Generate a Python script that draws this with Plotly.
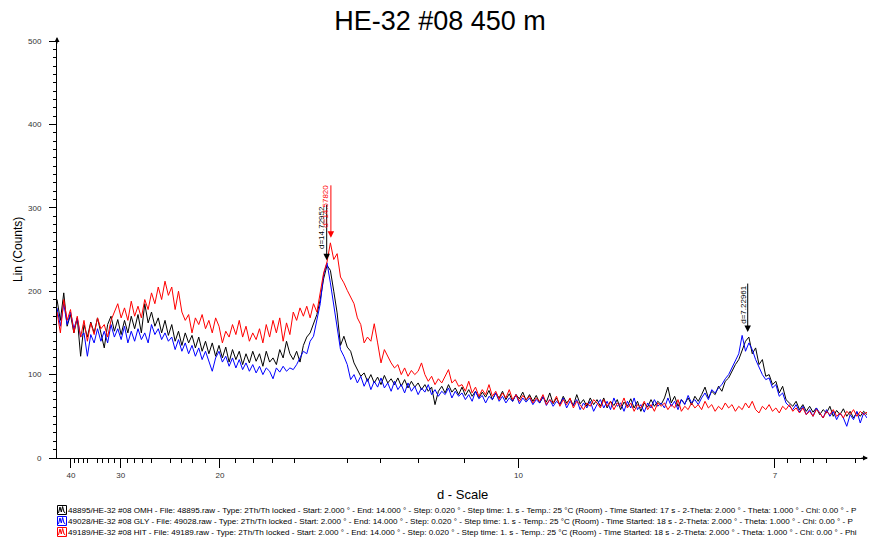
import math
import numpy as np
import plotly.graph_objects as go

TITLE = "HE-32 #08 450 m"
X_TITLE = "d - Scale"
Y_TITLE = "Lin (Counts)"
START_2TH = 2.0      # scan start (deg 2-theta)
STEP_2TH = 0.05      # sampling of the read-off values (deg 2-theta)
WAVELENGTH = 1.5406  # Cu K-alpha (Angstrom)

# counts, 2.00 .. 14.00 deg 2-theta, every 0.05 deg
omh_counts = [
    190, 165, 198, 158, 172, 150, 168, 122, 160, 145, 163, 150, 168, 148, 132, 160, 170, 152, 166, 148,
    165, 150, 170, 155, 172, 150, 185, 162, 175, 158, 168, 150, 165, 147, 160, 140, 152, 135, 150, 138,
    147, 132, 145, 128, 140, 125, 138, 122, 135, 120, 133, 115, 130, 118, 128, 112, 125, 114, 128, 116,
    125, 110, 128, 115, 120, 112, 130, 120, 140, 125, 118, 128, 115, 135, 145, 150, 160, 172, 190, 215,
    231, 225, 200, 174, 135, 146, 133, 128, 114, 106, 98, 102, 92, 100, 90, 97, 88, 99, 90, 95,
    88, 96, 86, 94, 84, 92, 85, 90, 82, 88, 80, 85, 64, 80, 86, 78, 88, 79, 84, 76,
    85, 75, 82, 74, 80, 72, 79, 73, 81, 70, 78, 72, 80, 70, 77, 68, 76, 71, 79, 69,
    76, 68, 75, 66, 73, 67, 78, 65, 72, 64, 74, 66, 71, 63, 76, 65, 70, 62, 72, 64,
    70, 62, 72, 60, 68, 63, 70, 58, 67, 62, 71, 60, 68, 56, 66, 61, 70, 62, 68, 64,
    72, 85, 66, 74, 62, 70, 65, 72, 64, 74, 68, 76, 85, 72, 80, 76, 86, 80, 92, 96,
    105, 112, 118, 128, 140, 145, 125, 132, 112, 118, 98, 100, 88, 92, 78, 86, 70, 66, 62, 68,
    58, 64, 56, 62, 55, 60, 52, 58, 54, 62, 50, 57, 52, 59, 50, 56, 48, 55, 50, 56,
    52,
]
gly_counts = [
    180, 158, 185, 160, 175, 155, 168, 145, 150, 122, 148, 138, 155, 140, 152, 138, 160, 145, 155, 142,
    158, 138, 152, 140, 155, 142, 150, 138, 160, 148, 155, 142, 150, 140, 145, 130, 142, 128, 138, 125,
    135, 122, 132, 118, 128, 115, 104, 120, 128, 115, 122, 110, 120, 108, 118, 106, 114, 104, 112, 102,
    110, 100, 108, 104, 95, 108, 103, 110, 104, 108, 106, 112, 120, 128, 125, 140, 146, 165, 185, 220,
    234, 210, 185, 160, 130, 122, 112, 94, 100, 90, 98, 86, 95, 82, 92, 85, 96, 84, 90, 80,
    92, 82, 88, 78, 90, 80, 86, 76, 84, 79, 88, 76, 82, 74, 80, 76, 84, 72, 80, 74,
    78, 70, 76, 68, 80, 71, 75, 66, 74, 70, 78, 68, 74, 66, 72, 68, 76, 65, 72, 67,
    72, 64, 70, 66, 74, 63, 70, 62, 68, 64, 72, 60, 68, 63, 70, 58, 66, 60, 68, 56,
    64, 70, 60, 68, 58, 72, 62, 66, 56, 68, 60, 72, 58, 64, 55, 66, 60, 70, 62, 66,
    60, 72, 62, 68, 58, 70, 64, 75, 66, 70, 64, 72, 78, 70, 82, 78, 84, 88, 95, 100,
    108, 118, 125, 147, 128, 138, 130, 118, 110, 100, 94, 96, 84, 88, 74, 78, 66, 62, 58, 64,
    55, 62, 52, 58, 50, 60, 54, 48, 58, 50, 56, 46, 54, 48, 38, 52, 46, 56, 42, 54,
    48,
]
hit_counts = [
    175, 150, 190, 165, 178, 150, 170, 145, 165, 140, 162, 148, 168, 155, 160, 145, 165, 175, 185, 168,
    180, 165, 188, 170, 182, 168, 190, 178, 198, 185, 205, 190, 212, 195, 205, 178, 200, 175, 165, 172,
    150, 168, 160, 172, 155, 165, 150, 168, 158, 138, 152, 145, 160, 148, 165, 145, 158, 140, 150, 142,
    155, 138, 160, 145, 165, 150, 168, 140, 162, 148, 175, 165, 180, 170, 182, 168, 185, 175, 200, 222,
    235, 258, 238, 245, 217, 210, 201, 192, 185, 168, 160, 138, 145, 140, 161, 138, 114, 130, 122, 114,
    108, 112, 100, 108, 98, 105, 100, 104, 114, 100, 92, 98, 88, 95, 90, 98, 106, 90, 94, 86,
    88, 80, 92, 78, 85, 74, 82, 76, 88, 74, 80, 70, 78, 72, 82, 70, 76, 68, 75, 70,
    74, 66, 72, 68, 76, 64, 70, 66, 74, 62, 70, 64, 72, 60, 68, 64, 58, 66, 62, 70,
    66, 60, 70, 62, 68, 58, 66, 62, 72, 60, 66, 56, 64, 60, 68, 58, 64, 56, 66, 62,
    66, 58, 64, 60, 70, 56, 62, 58, 66, 60, 64, 58, 68, 60, 64, 56, 62, 58, 66, 60,
    64, 56, 62, 58, 66, 60, 68, 58, 54, 62, 58, 64, 56, 60, 54, 62, 58, 64, 56, 60,
    54, 60, 52, 56, 50, 58, 54, 48, 56, 52, 58, 50, 54, 48, 56, 52, 58, 50, 56, 52,
    55,
]

series_counts = [omh_counts, gly_counts, hit_counts]
series_names = ["48895/HE-32 #08 OMH", "49028/HE-32 #08 GLY", "49189/HE-32 #08 HIT"]
series_colors = ["#000000", "#0000FF", "#FF0000"]
legend_texts = [
    "48895/HE-32 #08 OMH - File: 48895.raw - Type: 2Th/Th locked - Start: 2.000 ° - End: 14.000 ° - Step: 0.020 ° - Step time: 1. s - Temp.: 25 °C (Room) - Time Started: 17 s - 2-Theta: 2.000 ° - Theta: 1.000 ° - Chi: 0.00 ° - P",
    "49028/HE-32 #08 GLY - File: 49028.raw - Type: 2Th/Th locked - Start: 2.000 ° - End: 14.000 ° - Step: 0.020 ° - Step time: 1. s - Temp.: 25 °C (Room) - Time Started: 18 s - 2-Theta: 2.000 ° - Theta: 1.000 ° - Chi: 0.00 ° - P",
    "49189/HE-32 #08 HIT - File: 49189.raw - Type: 2Th/Th locked - Start: 2.000 ° - End: 14.000 ° - Step: 0.020 ° - Step time: 1. s - Temp.: 25 °C (Room) - Time Started: 18 s - 2-Theta: 2.000 ° - Theta: 1.000 ° - Chi: 0.00 ° - Phi",
]

# d-scale ticks
d_major = [40, 30, 20, 10, 7]
d_medium = [35, 25, 15, 6.5]
d_minor = [39, 38, 37, 36, 34, 33, 32, 31, 29, 28, 27, 26, 24, 23, 22, 21,
           19, 18, 17, 16, 14, 13, 12, 11, 6.9, 6.8, 6.7, 6.6, 6.4]
y_major = [0, 100, 200, 300, 400, 500]
y_medium = [50, 150, 250, 350, 450]

# peak markers: d value, series index, label
peak_d = [14.72952, 14.57820, 7.22961]
peak_series = [0, 2, 0]
peak_labels = ["d=14.72952", "d=14.57820", "d=7.22961"]


def d_to_2th(d):
    return 2 * math.degrees(math.asin(WAVELENGTH / (2 * d)))


W, H = 869, 543
L, R, T, B = 57, 2, 41, 85
PW, PH = W - L - R, H - T - B
FONT = "Liberation Sans, Arial, sans-serif"


def px_x(px):
    return (px - L) / PW


def px_y(py):
    return (H - B - py) / PH


fig = go.Figure()
for vals, name, col in zip(series_counts, series_names, series_colors):
    x = START_2TH + STEP_2TH * np.arange(len(vals))
    fig.add_trace(go.Scatter(x=x, y=vals, mode="lines", name=name,
                             line=dict(color=col, width=1), showlegend=False))

shapes = []
for d in d_medium:
    t = d_to_2th(d)
    shapes.append(dict(type="line", xref="x", yref="y", ysizemode="pixel", yanchor=0,
                       x0=t, x1=t, y0=0, y1=-6, line=dict(color="black", width=1)))
for v in y_medium:
    shapes.append(dict(type="line", xref="x", yref="y", xsizemode="pixel", xanchor=2,
                       x0=0, x1=-5, y0=v, y1=v, line=dict(color="black", width=1)))

annotations = []
# legend rows
row_y = [510, 521, 532]
for i, (txt, col) in enumerate(zip(legend_texts, series_colors)):
    yc = row_y[i]
    x0, x1 = px_x(57.5), px_x(66.5)
    y0, y1 = px_y(yc - 4.5), px_y(yc + 4.5)
    shapes.append(dict(type="rect", xref="paper", yref="paper", x0=x0, x1=x1, y0=y1, y1=y0,
                       line=dict(color=col, width=1), fillcolor="white"))
    pts = [(58.5, yc + 3), (60, yc - 3), (61.3, yc + 2), (62.6, yc - 3.5), (64, yc + 2), (65.5, yc + 3)]
    path = "M " + " L ".join(f"{px_x(a):.5f},{px_y(b):.5f}" for a, b in pts)
    shapes.append(dict(type="path", xref="paper", yref="paper", path=path,
                       line=dict(color=col, width=1)))
    annotations.append(dict(xref="paper", yref="paper", x=px_x(65.8), y=px_y(yc),
                            xanchor="left", yanchor="middle", showarrow=False, text=txt,
                            font=dict(family=FONT, size=8.1, color="black")))

# peak markers
arrow_len = [57, 54, 50]
text_shift = [(-5, 33), (-5, 32), (-5, 28)]
for d, si, lab, alen, (dx, dy) in zip(peak_d, peak_series, peak_labels, arrow_len, text_shift):
    t = d_to_2th(d)
    vals = series_counts[si]
    xs = START_2TH + STEP_2TH * np.arange(len(vals))
    near = [v for xv, v in zip(xs, vals) if abs(xv - t) <= 0.06]
    tip = max(near) + 6
    col = series_colors[si]
    annotations.append(dict(x=t, y=tip, xref="x", yref="y", ax=0, ay=-alen, text="",
                            showarrow=True, arrowhead=2, arrowsize=1.3, arrowwidth=1,
                            arrowcolor=col))
    annotations.append(dict(x=t, y=tip, xref="x", yref="y", xshift=dx, yshift=dy,
                            text=lab, textangle=-90, showarrow=False,
                            xanchor="center", yanchor="middle",
                            font=dict(family=FONT, size=8, color=col)))

# axis arrow heads
annotations.append(dict(xref="paper", yref="paper", x=0, y=1 + 4 / PH, ax=0, ay=8, text="",
                        showarrow=True, arrowhead=2, arrowsize=1, arrowwidth=1, arrowcolor="black"))
annotations.append(dict(xref="paper", yref="paper", x=1 + 1 / PW, y=0, ax=-8, ay=0, text="",
                        showarrow=True, arrowhead=2, arrowsize=1, arrowwidth=1, arrowcolor="black"))

# axis titles
annotations.append(dict(xref="paper", yref="paper", x=px_x(18), y=px_y(250), text=Y_TITLE,
                        textangle=-90, showarrow=False, xanchor="center", yanchor="middle",
                        font=dict(family=FONT, size=12, color="black")))
annotations.append(dict(xref="paper", yref="paper", x=px_x(462), y=px_y(495), text=X_TITLE,
                        showarrow=False, xanchor="center", yanchor="middle",
                        font=dict(family=FONT, size=13, color="black")))

fig.update_layout(
    width=W, height=H,
    margin=dict(l=L, r=R, t=T, b=B, pad=0),
    paper_bgcolor="white", plot_bgcolor="white",
    showlegend=False,
    title=dict(text=TITLE, x=440 / W, xanchor="center", y=1 - 21 / H, yanchor="middle",
               font=dict(family=FONT, size=27, color="black")),
    xaxis=dict(range=[2, 14], showline=True, linecolor="black", linewidth=1,
               showgrid=False, zeroline=False, ticks="outside", ticklen=9, tickwidth=1,
               tickcolor="black", tickmode="array",
               tickvals=[d_to_2th(d) for d in d_major], ticktext=[str(d) for d in d_major],
               tickfont=dict(family=FONT, size=8, color="#333333"),
               minor=dict(tickmode="array", tickvals=[d_to_2th(d) for d in d_minor],
                          ticks="outside", ticklen=4, tickwidth=1, tickcolor="black",
                          showgrid=False)),
    yaxis=dict(range=[0, 500], showline=True, linecolor="black", linewidth=1,
               showgrid=False, zeroline=False, ticks="outside", ticklen=7, tickwidth=1,
               tickcolor="black", tickmode="array", tickvals=y_major,
               ticktext=[str(v) for v in y_major], ticklabelstandoff=6,
               tickfont=dict(family=FONT, size=8, color="#333333"),
               minor=dict(dtick=10, tick0=0, ticks="outside", ticklen=3, tickwidth=1,
                          tickcolor="black", showgrid=False)),
    shapes=shapes,
    annotations=annotations,
)

fig.write_html("out.html", config={"displayModeBar": False},
               post_script="document.body.style.margin='0';document.body.style.overflow='hidden';")
